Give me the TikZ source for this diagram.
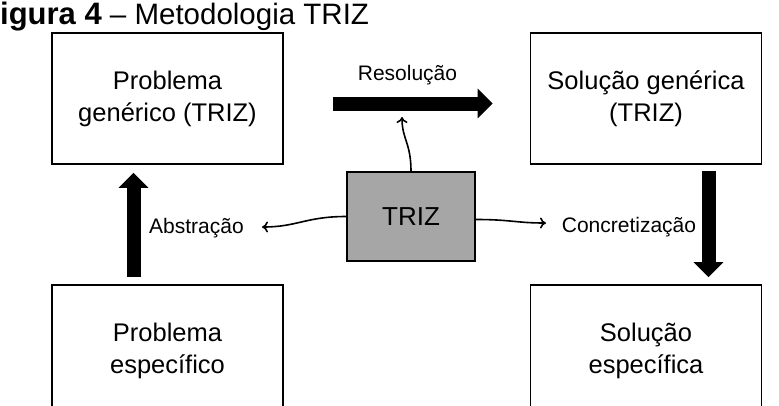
\documentclass[tikz,border=0pt]{standalone}
\usepackage{fontspec}
\setmainfont{Liberation Sans}
\usetikzlibrary{arrows.meta,positioning}

\begin{document}
\begin{tikzpicture}[
  x=1pt, y=-1pt,
  block/.style={
    draw,
    line width=1.8pt,
    align=center,
    minimum width=231pt,
    minimum height=131pt,
    font=\fontsize{25.5}{32}\selectfont
  },
  core/.style={
    draw,
    line width=1.8pt,
    fill=black!35,
    minimum width=128pt,
    minimum height=89pt,
    font=\fontsize{26}{30}\selectfont
  },
  bigarrow/.style={
    line width=14pt,
    -{Triangle[width=29pt,length=15pt]}
  },
  wavy/.style={
    line width=1.6pt,
    -{To[length=6pt,width=11pt]}
  },
  steplabel/.style={
    anchor=base,
    font=\fontsize{21}{25}\selectfont
  }
]
\clip (0,0) rectangle (779,405);
\fill[white] (0,0) rectangle (779,405);

\node[anchor=base west, inner sep=0pt, font=\fontsize{29.5}{32}\selectfont] (title) at (-19,24) {{\fontsize{31}{32}\selectfont\textbf{Figura 4}} -- Metodologia TRIZ};

\node[block] (pgen) at (167.5,98.5) {Problema\\genérico (TRIZ)};
\node[block] (sgen) at (646,98.5) {Solução genérica\\(TRIZ)};
\node[block] (pesp) at (167.5,350.5) {Problema\\específico};
\node[block] (sesp) at (646,350.5) {Solução\\específica};
\node[core] (triz) at (411,216.5) {TRIZ};

\draw[bigarrow, shorten <=49pt, shorten >=37pt] ([yshift=-5pt]pgen.east) -- ([yshift=-5pt]sgen.west);
\draw[bigarrow, shorten <=7pt, shorten >=8pt] ([xshift=-34pt]pesp.north) -- ([xshift=-34pt]pgen.south);
\draw[bigarrow, shorten <=6pt, shorten >=7pt] ([xshift=62.5pt]sgen.south) -- ([xshift=62.5pt]sesp.north);

\node[steplabel] (resol) at (407.5,80) {Resolução};
\node[steplabel] (abstr) at (196.5,233) {Abstração};
\node[steplabel] (concr) at (629,232) {Concretização};

\coordinate (resTip) at (402,117);
\coordinate (absTip) at (262,227);
\coordinate (conTip) at (546,223);
\draw[wavy] (triz.north) .. controls +(0,-28) and +(0,22) .. (resTip);
\draw[wavy] (triz.west) .. controls +(-40,0) and +(35,0) .. (absTip);
\draw[wavy] ([yshift=-3pt]triz.east) .. controls +(35,0) and +(-30,0) .. (conTip);
\end{tikzpicture}
\end{document}
